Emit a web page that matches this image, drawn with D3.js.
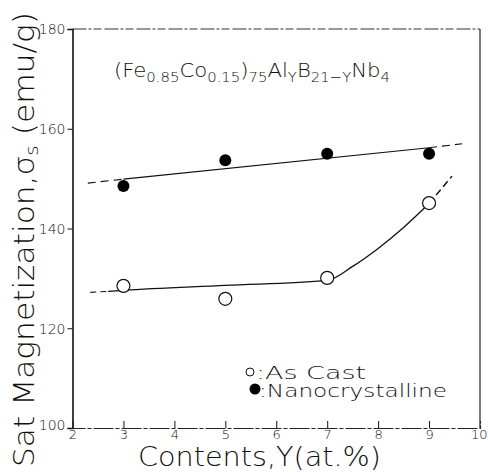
<!DOCTYPE html>
<html><head><meta charset="utf-8">
<script src="https://cdn.jsdelivr.net/npm/d3@7"></script>
<style>
html,body{margin:0;padding:0;background:#fff;}
svg{display:block;}
text{font-family:"DejaVu Sans","Liberation Sans",sans-serif;fill:#111;font-weight:300;}
</style></head>
<body>
<svg id="c" width="488" height="472"></svg>
<script>
// ---- data ----
const contents = [3, 5, 7, 9];
const asCast = [128.5, 125.9, 130.1, 145.1];
const nanocrystalline = [148.5, 153.7, 155.0, 155.0];
// fitted guide lines
const nanoFitSolid = [[3, 149.9], [9, 156.2]];
const nanoFitDashLeft = [[2.3, 149.1], [3, 149.9]];
const nanoFitDashRight = [[9, 156.2], [9.65, 157.0]];
const asCastFitSolid = [[2.7, 127.4], [3, 127.6], [5, 128.6], [7, 129.6], [7.5, 132.4], [8, 136.0], [8.5, 140.2], [9, 145.0]];
const asCastFitDashLeft = [[2.35, 127.2], [2.7, 127.4]];
const asCastFitDashRight = [[9, 145.0], [9.45, 150.5]];
const xTicks = [2, 3, 4, 5, 6, 7, 8, 9, 10];
const yTicks = [100, 120, 140, 160, 180];

const svg = d3.select("#c");
const x = d3.scaleLinear().domain([2, 10]).range([72.5, 480]);
const y = d3.scaleLinear().domain([100, 180]).range([428, 29]);

// frame
svg.append("line").attr("x1", x(2)).attr("x2", x(10)).attr("y1", y(180)).attr("y2", y(180))
  .attr("stroke", "#333").attr("stroke-width", 1).attr("stroke-dasharray", "14,2,3,2,8,3");
svg.append("line").attr("x1", x(10)).attr("x2", x(10)).attr("y1", y(180)).attr("y2", y(100))
  .attr("stroke", "#222").attr("stroke-width", 1.2);

// y axis
const yAxis = d3.axisLeft(y).tickValues(yTicks).tickSize(5).tickPadding(2).tickFormat(d3.format("d"));
const gy = svg.append("g").attr("transform", `translate(${x(2)},0)`).call(yAxis);
gy.select(".domain").attr("stroke", "#111").attr("stroke-width", 1.6);
gy.selectAll(".tick line").attr("stroke", "#111");
gy.selectAll(".tick text").style("font-size", "14px").attr("dy", "0.35em");
gy.selectAll(".tick").filter(d => d === 100).select("text").attr("dy", "0.1em");

// x axis (ticks point inward)
const xAxis = d3.axisBottom(x).tickValues(xTicks).tickSize(-7).tickPadding(2).tickFormat(d3.format("d"));
const gx = svg.append("g").attr("transform", `translate(0,${y(100)})`).call(xAxis);
gx.select(".domain").attr("stroke", "#222").attr("stroke-width", 1.2).attr("stroke-dasharray", "20,2,4,2");
gx.selectAll(".tick line").attr("stroke", "#111");
gx.selectAll(".tick").filter(d => d === 2 || d === 10).select("line").remove();
gx.selectAll(".tick text").style("font-size", "13px").attr("dy", "0.72em").attr("y", 2);
gx.selectAll(".tick").filter(d => d === 10).select("text").attr("dx", "0").attr("text-anchor", "end").attr("x", 7);

// fit lines
const line = d3.line().x(d => x(d[0])).y(d => y(d[1]));
const lineCurve = d3.line().x(d => x(d[0])).y(d => y(d[1])).curve(d3.curveMonotoneX);
svg.append("path").attr("d", line(nanoFitSolid)).attr("fill", "none").attr("stroke", "#111").attr("stroke-width", 1.1);
svg.append("path").attr("d", line(nanoFitDashLeft)).attr("fill", "none").attr("stroke", "#111").attr("stroke-width", 1.1).attr("stroke-dasharray", "8,5");
svg.append("path").attr("d", line(nanoFitDashRight)).attr("fill", "none").attr("stroke", "#111").attr("stroke-width", 1.1).attr("stroke-dasharray", "8,5");
svg.append("path").attr("d", lineCurve(asCastFitSolid)).attr("fill", "none").attr("stroke", "#111").attr("stroke-width", 1.3);
svg.append("path").attr("d", line(asCastFitDashLeft)).attr("fill", "none").attr("stroke", "#111").attr("stroke-width", 1.1).attr("stroke-dasharray", "6,4");
svg.append("path").attr("d", line(asCastFitDashRight)).attr("fill", "none").attr("stroke", "#111").attr("stroke-width", 1.5).attr("stroke-dasharray", "7,4");

// points
svg.selectAll("circle.nano").data(contents).join("circle").attr("class", "nano")
  .attr("cx", d => x(d)).attr("cy", (d, i) => y(nanocrystalline[i])).attr("r", 6)
  .attr("fill", "#000");
svg.selectAll("circle.cast").data(contents).join("circle").attr("class", "cast")
  .attr("cx", d => x(d)).attr("cy", (d, i) => y(asCast[i])).attr("r", 6.5)
  .attr("fill", "#fff").attr("stroke", "#111").attr("stroke-width", 1.2);

// title
const t = svg.append("text").attr("x", 114).attr("y", 77).style("font-size", "20px")
  .attr("textLength", 276).attr("lengthAdjust", "spacingAndGlyphs");
const parts = [["(Fe", 0], ["0.85", 1], ["Co", 0], ["0.15", 1], [")", 0], ["75", 1], ["Al", 0], ["Y", 1], ["B", 0], ["21−Y", 1], ["Nb", 0], ["4", 1]];
let prevSub = 0;
parts.forEach(([s, sub]) => {
  const ts = t.append("tspan").text(s).style("font-size", sub ? "14px" : "20px");
  if (sub !== prevSub) ts.attr("dy", sub ? 5 : -5);
  prevSub = sub;
});

// legend
svg.append("circle").attr("cx", 250).attr("cy", 372).attr("r", 4).attr("fill", "#fff").attr("stroke", "#111").attr("stroke-width", 1);
svg.append("text").attr("x", 256).attr("y", 379).style("font-size", "17px").attr("textLength", 110).attr("lengthAdjust", "spacingAndGlyphs").text(":As  Cast");
svg.append("circle").attr("cx", 255).attr("cy", 389).attr("r", 5.5).attr("fill", "#000");
svg.append("text").attr("x", 259).attr("y", 397).style("font-size", "17px").attr("textLength", 188).attr("lengthAdjust", "spacingAndGlyphs").text(":Nanocrystalline");

// axis titles
svg.append("text").attr("x", 138).attr("y", 466).style("font-size", "26px")
  .attr("textLength", 243).attr("lengthAdjust", "spacingAndGlyphs").text("Contents,Y(at.%)");
const yl = svg.append("text").attr("transform", "translate(34,467) rotate(-90)").style("font-size", "28px")
  .attr("textLength", 455).attr("lengthAdjust", "spacingAndGlyphs");
yl.append("tspan").text("Sat  Magnetization,σ");
yl.append("tspan").text("s").style("font-size", "18px").attr("dy", 4);
yl.append("tspan").text(" (emu/g)").attr("dy", -4);
</script>
</body></html>
